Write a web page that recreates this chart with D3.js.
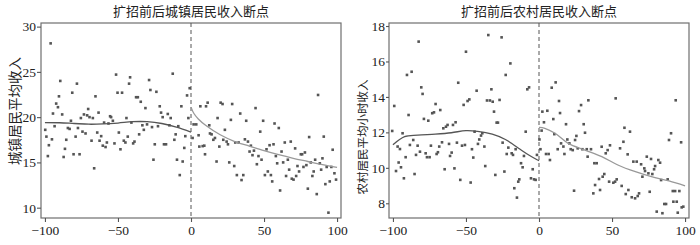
<!DOCTYPE html>
<html>
<head>
<meta charset="utf-8">
<script src="https://cdn.jsdelivr.net/npm/d3@7"></script>
<style>
  body { margin: 0; background: #fff; }
  svg { display: block; }
</style>
</head>
<body>
<svg id="chart" width="700" height="245"></svg>
<script>
// x ticks shared by both panels
const xTicks = [-100, -50, 0, 50, 100]
const urbanYTicks = [10, 15, 20, 25, 30]
const ruralYTicks = [8, 10, 12, 14, 16, 18]

// panel 1: urban income, [distance, income]
const urbanBefore = [[-99.8,18.6],[-99,17.85],[-98,15.7],[-97.3,16.9],[-96.1,28.15],[-95.2,17.55],[-94.5,20.4],[-93.4,19.0],[-92.3,21.5],[-91.1,21.1],[-90.4,22.3],[-89.5,24.0],[-88.2,20.3],[-87.2,15.6],[-86.3,16.5],[-85.4,17.5],[-84.3,18.8],[-83.1,18.7],[-82.2,19.6],[-81.3,22.7],[-80.4,15.9],[-79,17.85],[-78.1,23.7],[-77.4,18.8],[-76.3,15.9],[-75.4,19.9],[-74.3,18.4],[-73.3,20.3],[-72.2,18.2],[-71.1,20.2],[-70.4,20.9],[-69.5,20.0],[-68.1,17.4],[-67.2,19.9],[-66.3,14.35],[-65.4,22.3],[-64.2,18.3],[-63.3,20.5],[-62.6,17.4],[-61.5,17.9],[-60.4,16.85],[-59.5,19.4],[-58.5,16.7],[-57.6,17.2],[-56.5,19.3],[-55.4,20.1],[-54.7,20.0],[-53.5,19.6],[-52.4,17.1],[-51.3,24.7],[-50.3,22.7],[-49.4,18.3],[-48.3,16.45],[-47.2,22.7],[-46.0,17.4],[-44.9,17.2],[-44.2,19.9],[-43.3,17.85],[-42.4,23.7],[-41.7,24.4],[-40.8,19.4],[-39.6,17.1],[-38.7,17.3],[-37.6,22.2],[-36.4,22.2],[-35.5,18.1],[-34.4,21.7],[-33.3,19.1],[-32.3,18.6],[-31.2,21.0],[-30.1,19.2],[-28.7,24.1],[-27.8,23.0],[-26.7,18.9],[-25.7,15.3],[-24.8,17.0],[-23.7,22.8],[-22.6,19.0],[-21.4,21.2],[-20.5,20.5],[-19.4,20.0],[-18.5,17.0],[-17.1,17.0],[-15.9,20.35],[-14.8,19.1],[-13.9,19.9],[-12.5,24.8],[-11.4,17.5],[-10.5,18.1],[-9.6,15.3],[-8.7,19.0],[-7.7,13.6],[-6.6,21.2],[-5.7,15.1],[-4.6,16.6],[-3.9,17.9],[-2.7,22.4],[-1.8,19.9],[-0.9,23.2]]
const urbanAfter = [[1.1,17.7],[1.8,19.2],[3.6,19.2],[5.2,18.0],[5.7,16.75],[6.4,21.2],[8,16.8],[9.1,16.85],[9.6,15.9],[10.3,21.2],[11.4,21.6],[12.5,19.1],[13,18.2],[14.1,18.1],[15.3,17.5],[16.4,17.7],[17.5,15.1],[18.2,19.9],[19.4,16.75],[20.3,21.6],[21.6,21.45],[22.1,17.5],[23.2,18.6],[24.4,17.3],[25.3,17.0],[26.2,15.0],[27.3,19.7],[28.2,21.45],[29.6,14.6],[30.3,17.2],[31.4,13.6],[32.6,17.2],[33.7,20.4],[34.6,13.05],[35.8,13.6],[36.9,17.55],[37.8,19.6],[39,17.3],[40.1,16.2],[41,16.85],[42.1,15.8],[43.1,16.3],[44.2,21.0],[45.1,14.8],[46.2,15.7],[47.4,18.4],[48.3,15.3],[49.4,19.6],[50.6,13.6],[51.7,16.45],[52.6,14.0],[53.8,16.9],[54.7,13.6],[55.6,12.9],[56.5,17.0],[57.2,19.3],[58.1,15.7],[59,14.9],[60.1,18.8],[61,11.9],[62,16.2],[63.1,15.0],[64.2,17.2],[65.1,13.5],[66.3,15.3],[67.2,14.2],[68.3,17.3],[69,13.2],[70.2,13.1],[71.3,16.55],[72,13.5],[72.9,14.6],[74,14.0],[75.2,15.9],[76.1,15.9],[77,14.5],[78,16.1],[79,14.7],[80,12.1],[80.9,17.8],[82,15.0],[83.1,13.5],[84,14.0],[85,15.3],[86.1,11.5],[87,22.45],[88.2,14.9],[89.1,14.2],[90,15.45],[90.9,17.85],[92,12.6],[92.9,14.5],[94.1,9.45],[95,12.9],[96.1,14.5],[97,16.4],[98.2,13.8],[99.3,13.1]]
const urbanFitBefore = [[-100,19.4],[-90,19.38],[-80,19.3],[-70,19.22],[-60,19.25],[-50,19.35],[-40,19.5],[-30,19.5],[-20,19.3],[-10,18.9],[0,18.35]]
const urbanFitAfter = [[0,21.1],[2,20.4],[5,19.8],[10,19.1],[20,18.05],[30,17.3],[40,16.8],[50,16.3],[60,15.85],[70,15.45],[80,15.1],[90,14.75],[100,14.45]]

// panel 2: rural hourly income
const ruralBefore = [[-100.5,12.08],[-99.1,13.49],[-97.9,9.82],[-96.8,11.2],[-96.1,10.3],[-95.2,11.06],[-94.5,10.03],[-93.4,11.95],[-92.5,9.41],[-91.3,10.6],[-90.4,15.24],[-89.3,12.98],[-88.4,11.29],[-87.2,15.42],[-86.1,11.57],[-85.2,9.65],[-84.2,10.73],[-83.1,11.25],[-82.4,17.12],[-81.5,10.91],[-80.6,14.54],[-79.7,14.17],[-78.8,12.76],[-77.6,10.82],[-76.7,10.6],[-75.8,12.66],[-74.9,10.6],[-74,11.25],[-73.1,13.08],[-71.9,13.13],[-70.8,13.6],[-70.1,10.78],[-69.2,10.88],[-68.3,11.2],[-67.6,13.26],[-66.4,11.44],[-65.5,12.23],[-64.6,9.92],[-63.7,12.32],[-62.6,12.42],[-61.6,11.35],[-60.9,10.67],[-59.8,10.86],[-58.9,12.42],[-57.9,9.97],[-57.1,12.57],[-56.2,11.42],[-55.3,14.8],[-53.9,9.32],[-52.7,11.25],[-51.6,13.55],[-50.7,11.29],[-50,16.55],[-48.9,13.77],[-47.7,13.86],[-46.8,9.17],[-45.9,11.05],[-45,10.58],[-44.1,12.04],[-42.7,14.35],[-41.8,11.35],[-40.9,11.6],[-39.7,11.82],[-38.8,11.95],[-37.4,11.2],[-36.8,10.1],[-35.6,13.8],[-34.7,17.49],[-33.6,13.8],[-32.6,14.43],[-31.7,13.73],[-30.8,13.17],[-29.9,9.6],[-29,12.55],[-28.1,12.55],[-27,13.83],[-25.6,17.36],[-24.9,11.42],[-23.7,9.79],[-22.8,15.24],[-22.1,10.78],[-21,11.14],[-19.6,15.89],[-18.7,10.82],[-17.8,10.73],[-16.9,8.85],[-16,11.05],[-15.1,8.32],[-14.2,9.22],[-13.5,9.35],[-12.3,10.26],[-11.2,10.03],[-10.3,10.67],[-9.1,12.04],[-8,14.43],[-6.8,14.54],[-5.5,9.41],[-4.3,9.92],[-3.4,9.35],[-2.3,9.32],[-1.4,10.73]]
const ruralAfter = [[0.3,11.6],[1.0,11.05],[1.8,12.1],[2.3,13.17],[3.4,12.57],[4.8,10.78],[5.7,13.22],[6.6,10.78],[7.5,10.44],[8.7,14.52],[9.8,12.75],[10.5,11.9],[11.4,14.82],[12.8,11.05],[13.7,13.77],[14.4,13.09],[15.1,11.38],[16.7,11.2],[17.4,10.78],[18.5,12.46],[19.4,11.6],[20.8,11.38],[21.7,11.05],[23.1,11.0],[24,8.71],[24.7,11.57],[25.6,11.8],[26.5,11.1],[27.4,13.2],[28.8,13.54],[29.7,11.05],[30.6,12.46],[31.5,11.98],[32.7,11.05],[33.3,10.63],[33.8,13.81],[35.6,11.05],[37.2,8.56],[37.9,10.26],[38.4,9.03],[39.5,10.26],[41.1,9.37],[41.8,8.75],[42.9,11.19],[43.6,9.5],[44.7,9.65],[45.7,10.82],[47,11.0],[48,9.22],[48.6,11.27],[50.9,9.16],[52.1,9.22],[52.5,13.92],[53.2,9.35],[55.5,11.1],[56.6,8.98],[57.8,11.47],[58.5,12.26],[59.4,8.52],[60.7,10.76],[61.2,8.75],[62.3,12.04],[63.5,8.34],[64.6,10.35],[65.8,8.28],[66.9,10.35],[67.6,8.41],[68.5,8.56],[69.9,10.2],[70.8,9.5],[72.1,9.97],[72.6,9.82],[73.8,10.63],[74.9,9.69],[75.8,8.65],[76.7,10.5],[77.6,9.65],[78.8,9.92],[79.5,10.1],[80.6,7.53],[81.7,10.44],[82.9,10.29],[83.6,9.31],[84.5,7.44],[85.8,7.96],[87,7.96],[88.1,9.35],[89,11.57],[90.4,11.95],[91.6,8.69],[92,8.09],[93.2,8.69],[93.6,13.81],[94.3,8.09],[95,7.47],[96.1,8.69],[97.3,11.44],[97.7,7.77],[98.8,7.81]]
const ruralFitBefore = [[-100,11.3],[-92,11.76],[-83,11.84],[-71,11.9],[-60,11.98],[-50,12.1],[-42,12.06],[-32,11.9],[-23,11.6],[-14,11.1],[-7,10.72],[-1,10.44],[0,10.4]]
const ruralFitAfter = [[0,12.28],[4,12.23],[11,11.95],[20,11.38],[31.5,11.0],[43,10.63],[54,10.16],[66,9.78],[77,9.5],[89,9.26],[100,8.98]]

const panels = [
    {
        left: 41, right: 341, title: '扩招前后城镇居民收入断点',
        ylabel: '城镇居民平均收入', ylabelX: 15, ylabelY: 111, ylabelSize: 13.5,
        yDomain: [8.86, 30.4], yTicks: urbanYTicks, tickSize: 4,
        before: urbanBefore, after: urbanAfter,
        fitBefore: urbanFitBefore, fitAfter: urbanFitAfter
    },
    {
        left: 389, right: 689, title: '扩招前后农村居民收入断点',
        ylabel: '农村居民平均小时收入', ylabelX: 363, ylabelY: 137, ylabelSize: 11.5,
        yDomain: [7.17, 18.17], yTicks: ruralYTicks, tickSize: 3,
        before: ruralBefore, after: ruralAfter,
        fitBefore: ruralFitBefore, fitAfter: ruralFitAfter
    }
]

const TOP = 23
const BOTTOM = 218
const svg = d3.select('#chart')

panels.forEach(p => drawPanel(p))

function drawPanel(p) {
    let x = d3.scaleLinear()
        .domain([-102.7, 102.7])
        .range([p.left, p.right])
    let y = d3.scaleLinear()
        .domain(p.yDomain)
        .range([BOTTOM, TOP])

    let g = svg.append('g')

    // frame
    g.append('rect')
        .attr('x', p.left)
        .attr('y', TOP)
        .attr('width', p.right - p.left)
        .attr('height', BOTTOM - TOP)
        .attr('fill', 'none')
        .attr('stroke', '#6f6f6f')
        .attr('stroke-width', 1.2)

    let xAxis = g.append('g')
        .attr('transform', 'translate(0,' + BOTTOM + ')')
        .call(d3.axisBottom(x).tickValues(xTicks).tickSize(4).tickPadding(3))
    let yAxis = g.append('g')
        .attr('transform', 'translate(' + p.left + ',0)')
        .call(d3.axisLeft(y).tickValues(p.yTicks).tickSize(p.tickSize).tickPadding(1))

    ;[xAxis, yAxis].forEach(a => {
        a.select('.domain').remove()
        a.selectAll('.tick line').attr('stroke', '#555').attr('stroke-width', 1.1)
        a.selectAll('.tick text')
            .style('font-family', '"Liberation Serif", "DejaVu Serif", serif')
            .style('font-size', '13.5px')
            .attr('fill', '#222')
    })

    // cutoff line
    g.append('line')
        .attr('x1', x(0)).attr('x2', x(0))
        .attr('y1', TOP).attr('y2', BOTTOM)
        .attr('stroke', '#555')
        .attr('stroke-width', 1)
        .attr('stroke-dasharray', '4,3')

    let pts = p.before.concat(p.after)
    g.selectAll('rect.pt')
        .data(pts)
        .enter()
        .append('rect')
        .attr('class', 'pt')
        .attr('x', d => x(d[0]) - 1.3)
        .attr('y', d => y(d[1]) - 1.3)
        .attr('width', 2.6)
        .attr('height', 2.6)
        .attr('fill', '#555')

    let line = d3.line()
        .x(d => x(d[0]))
        .y(d => y(d[1]))
        .curve(d3.curveCatmullRom)

    g.append('path')
        .datum(p.fitBefore)
        .attr('d', line)
        .attr('fill', 'none')
        .attr('stroke', '#555')
        .attr('stroke-width', 1.3)

    g.append('path')
        .datum(p.fitAfter)
        .attr('d', line)
        .attr('fill', 'none')
        .attr('stroke', '#999')
        .attr('stroke-width', 1.3)

    // title
    g.append('text')
        .attr('x', (p.left + p.right) / 2)
        .attr('y', 16)
        .attr('text-anchor', 'middle')
        .style('font-family', '"Noto Sans CJK SC", sans-serif')
        .style('font-size', '13px')
        .attr('fill', '#222')
        .text(p.title)

    g.append('text')
        .attr('transform', 'translate(' + p.ylabelX + ',' + p.ylabelY + ') rotate(-90)')
        .attr('text-anchor', 'middle')
        .attr('dy', '0.35em')
        .style('font-family', '"Noto Sans CJK SC", sans-serif')
        .style('font-size', p.ylabelSize + 'px')
        .attr('fill', '#222')
        .text(p.ylabel)
}
</script>
</body>
</html>
